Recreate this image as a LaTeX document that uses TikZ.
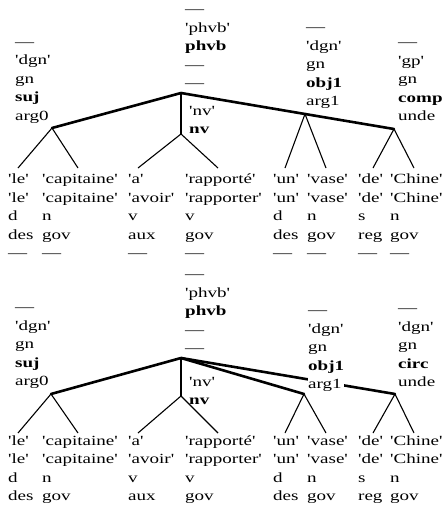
\documentclass[tikz,border=0pt]{standalone}
\usepackage{fontspec}
\setmainfont{Liberation Serif}[FakeStretch=1.36,Ligatures=TeXOff]
\newcommand\rowstrut{\vrule width 0pt height 13pt depth 5.5pt}
\newcommand\lbl[1]{\vtop{\offinterlineskip\halign{\rowstrut##\hfil\cr#1\crcr}}}
\begin{document}
\begin{tikzpicture}[x=1pt,y=-1pt,
  txt/.style={anchor=base west,inner sep=0pt,font=\fontsize{14}{18.5}\selectfont},
  knock/.style={fill=white},
  thickedge/.style={line width=2.6pt,line cap=round},
  midedge/.style={line width=1.8pt},
  thinedge/.style={line width=1.1pt}]
\useasboundingbox (0,0) rectangle (443,517);
% ---------- top tree ----------
\coordinate (T0) at (181,93);
\coordinate (TL) at (52,128);
\coordinate (TN) at (181,134);
\coordinate (TO) at (305,114);
\coordinate (TC) at (394,129);
\foreach \i/\x in {1/18,2/78,3/138,4/218,5/285,6/326,7/373,8/414}
  \coordinate (tc\i) at (\x,168);
\draw[thickedge] (T0) -- (TL);
\draw[midedge] (T0) -- (TN);
\draw[thickedge] (T0) -- (TO) -- (TC);
\draw[thinedge] (tc1) -- (TL) -- (tc2);
\draw[thinedge] (tc3) -- (TN) -- (tc4);
\draw[thinedge] (tc5) -- (TO) -- (tc6);
\draw[thinedge] (tc7) -- (TC) -- (tc8);
\node[txt] (troot) at (185,13.5) {\lbl{—\cr'phvb'\cr\textbf{phvb}\cr—\cr—}};
\node[txt] (tleft) at (15,46) {\lbl{—\cr'dgn'\cr gn\cr\textbf{suj}\cr arg0}};
\node[txt] (tnv) at (189,115) {\lbl{'nv'\cr\textbf{nv}}};
\node[txt,knock] (tobj) at (306,31.5) {\lbl{—\cr'dgn'\cr gn\cr\textbf{obj1}\cr arg1}};
\node[txt] (tcomp) at (398,46.5) {\lbl{—\cr'gp'\cr gn\cr\textbf{comp}\cr unde}};
\node[txt] (tw1) at (8,183.5) {\lbl{'le'\cr'le'\cr d\cr des\cr —}};
\node[txt] (tw2) at (42,183.5) {\lbl{'capitaine'\cr'capitaine'\cr n\cr gov\cr —}};
\node[txt] (tw3) at (128,183.5) {\lbl{'a'\cr'avoir'\cr v\cr aux\cr —}};
\node[txt] (tw4) at (185,183.5) {\lbl{'rapporté'\cr'rapporter'\cr v\cr gov\cr —}};
\node[txt] (tw5) at (273,183.5) {\lbl{'un'\cr'un'\cr d\cr des\cr —}};
\node[txt] (tw6) at (307,183.5) {\lbl{'vase'\cr'vase'\cr n\cr gov\cr —}};
\node[txt] (tw7) at (358,183.5) {\lbl{'de'\cr'de'\cr s\cr reg\cr —}};
\node[txt] (tw8) at (390,183.5) {\lbl{'Chine'\cr'Chine'\cr n\cr gov\cr —}};
% ---------- bottom tree ----------
\coordinate (B0) at (181,358);
\coordinate (BL) at (51,394);
\coordinate (BN) at (181,396);
\coordinate (BO) at (304,394);
\coordinate (BC) at (395,394);
\foreach \i/\x in {1/18,2/78,3/138,4/218,5/285,6/326,7/373,8/414}
  \coordinate (bc\i) at (\x,433);
\draw[thickedge] (B0) -- (BL);
\draw[midedge] (B0) -- (BN);
\draw[thickedge] (B0) -- (BO);
\draw[thickedge] (B0) -- (BC);
\draw[thinedge] (bc1) -- (BL) -- (bc2);
\draw[thinedge] (bc3) -- (BN) -- (bc4);
\draw[thinedge] (bc5) -- (BO) -- (bc6);
\draw[thinedge] (bc7) -- (BC) -- (bc8);
\node[txt] (broot) at (185,278.5) {\lbl{—\cr'phvb'\cr\textbf{phvb}\cr—\cr—}};
\node[txt] (bleft) at (15,311.5) {\lbl{—\cr'dgn'\cr gn\cr\textbf{suj}\cr arg0}};
\node[txt] (bnv) at (189,386) {\lbl{'nv'\cr\textbf{nv}}};
\node[txt,knock] (bobj) at (308,314.5) {\lbl{—\cr'dgn'\cr gn\cr\textbf{obj1}\cr arg1}};
\node[txt] (bcirc) at (398,312.5) {\lbl{—\cr'dgn'\cr gn\cr\textbf{circ}\cr unde}};
\node[txt] (bw1) at (8,445.25) {\lbl{'le'\cr'le'\cr d\cr des}};
\node[txt] (bw2) at (42,445.25) {\lbl{'capitaine'\cr'capitaine'\cr n\cr gov}};
\node[txt] (bw3) at (128,445.25) {\lbl{'a'\cr'avoir'\cr v\cr aux}};
\node[txt] (bw4) at (185,445.25) {\lbl{'rapporté'\cr'rapporter'\cr v\cr gov}};
\node[txt] (bw5) at (273,445.25) {\lbl{'un'\cr'un'\cr d\cr des}};
\node[txt] (bw6) at (307,445.25) {\lbl{'vase'\cr'vase'\cr n\cr gov}};
\node[txt] (bw7) at (358,445.25) {\lbl{'de'\cr'de'\cr s\cr reg}};
\node[txt] (bw8) at (390,445.25) {\lbl{'Chine'\cr'Chine'\cr n\cr gov}};
\end{tikzpicture}
\end{document}
